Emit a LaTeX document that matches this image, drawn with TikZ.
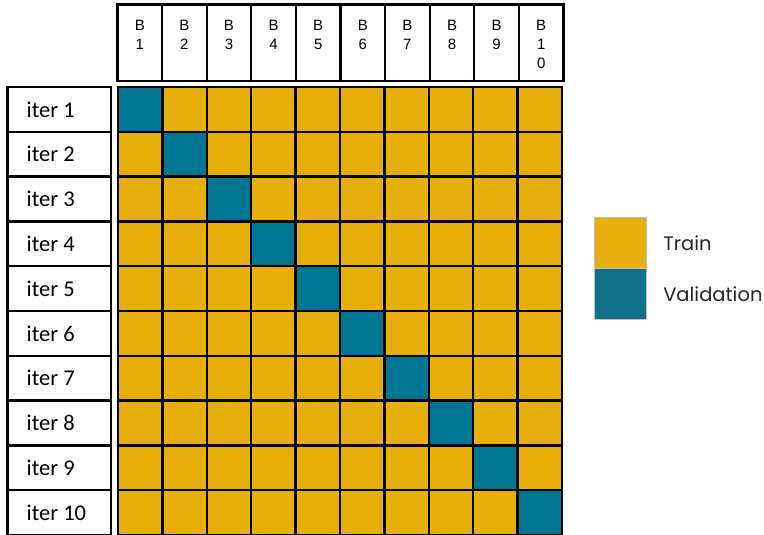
\documentclass[tikz,border=0pt]{standalone}
\usepackage{fontspec}
\setmainfont{Carlito}
\newfontfamily\hdrfont{Liberation Sans}
\newfontfamily\legfont{Poppins}
\definecolor{trainc}{RGB}{230,175,12}
\definecolor{valc}{RGB}{0,118,146}
\definecolor{legval}{RGB}{17,111,140}
\begin{document}
\begin{tikzpicture}[x=1pt,y=-1pt,
  gridcell/.style={draw=black, line width=2.3pt, minimum width=44.4pt, minimum height=44.8pt, inner sep=0pt, outer sep=0pt, anchor=north west},
  traincell/.style={gridcell, fill=trainc},
  valcell/.style={gridcell, fill=valc},
  hdrbox/.style={draw=black, line width=2.3pt, fill=white, minimum width=44.6pt, minimum height=76.5pt, inner sep=0pt, outer sep=0pt, anchor=north west},
  hdrtext/.style={font=\hdrfont\fontsize{15}{19}\selectfont, align=center, anchor=north, inner sep=0pt},
  rowbox/.style={draw=black, line width=2.3pt, fill=white, minimum width=103.5pt, minimum height=44.8pt, inner sep=0pt, outer sep=0pt, anchor=north west},
  rowtext/.style={font=\fontsize{22.5}{26}\selectfont, anchor=west, inner sep=0pt},
  legbox/.style={draw=black!25, line width=0.6pt, minimum width=51.5pt, minimum height=51pt, inner sep=0pt, anchor=north west},
  legtext/.style={font=\legfont\fontsize{19.5}{22}\selectfont, anchor=west, inner sep=0pt, text=black!85}
]
\useasboundingbox (0,0) rectangle (764,535);
% header
\foreach \c in {1,...,9} {
  \node[hdrbox] (h\c) at ({117.5+(\c-1)*44.6},4.5) {};
  \node[hdrtext] (ht\c) at ([yshift=-15.5pt]h\c.north) {B\\\c};
}
\node[hdrbox] (h10) at ({117.5+9*44.6},4.5) {};
\node[hdrtext] (ht10) at ([yshift=-15.5pt]h10.north) {B\\1\\0};
% grid
\foreach \r in {1,...,10} {
  \foreach \c in {1,...,10} {
    \ifnum\r=\c
      \node[valcell] (g\r-\c) at ({118+(\c-1)*44.4},{87+(\r-1)*44.8}) {};
    \else
      \node[traincell] (g\r-\c) at ({118+(\c-1)*44.4},{87+(\r-1)*44.8}) {};
    \fi
  }
  \node[rowbox] (r\r) at (7.5,{87+(\r-1)*44.8}) {};
  \node[rowtext] (rt\r) at ([xshift=19pt]r\r.west) {iter \r};
}
% legend
\node[legbox, fill=trainc] (lt) at (594,217) {};
\node[legbox, fill=legval] (lv) at (594,268) {};
\node[legtext] (ltt) at ([xshift=17pt]lt.east) {Train};
\node[legtext] (lvt) at ([xshift=17pt]lv.east) {Validation};
\end{tikzpicture}
\end{document}
